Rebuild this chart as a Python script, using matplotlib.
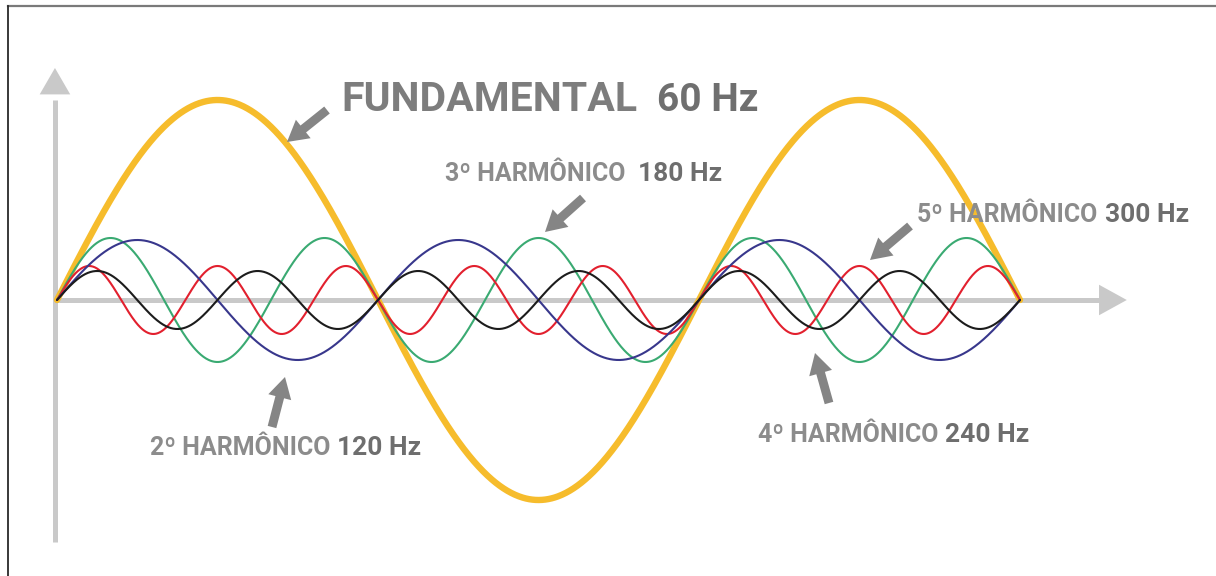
import numpy as np
import matplotlib.pyplot as plt
from matplotlib.lines import Line2D

plt.rcParams['font.family'] = ['Roboto', 'DejaVu Sans']

# harmonic order, relative amplitude and colour of every curve
orders = [1, 2, 3, 4, 5]
amplitudes = [1.0, 0.30, 0.31, 0.145, 0.17]
colors = ['#F6BC2C', '#38378C', '#3AAA72', '#1C1C1C', '#E2202E']
widths = [4.6, 1.5, 1.5, 1.5, 1.5]

# labels: name, frequency
names = ['FUNDAMENTAL', '2º HARMÔNICO', '3º HARMÔNICO', '4º HARMÔNICO', '5º HARMÔNICO']
freqs = ['60 Hz', '120 Hz', '180 Hz', '240 Hz', '300 Hz']

W, H = 1216, 576
GRAY_AXIS = '#C9C9C9'
GRAY_ARROW = '#858585'


def fig_pt(x, y):
    # pixel position (from top-left) -> figure fraction
    return (x / W, 1 - y / H)


fig = plt.figure(figsize=(W / 100, H / 100), dpi=100)
ax = fig.add_axes([0, 0, 1, 1])
ax.set_axis_off()

# data units: x in fundamental phase (rad), y in fundamental amplitude
x_scale = 963 / (3 * np.pi)
ax.set_xlim(-57 / x_scale, (W - 57) / x_scale)
ax.set_ylim(-(H - 300) / 200, 300 / 200)

# axes arrows
x_end = 10.47
ax.plot([0, x_end - 0.2], [0, 0], color=GRAY_AXIS, lw=3.6, zorder=1, solid_capstyle='butt')
ax.plot([-0.02, -0.02], [-1.21, 1.0], color=GRAY_AXIS, lw=3.6, zorder=1, solid_capstyle='butt')
ax.annotate('', xy=(x_end, 0), xytext=(x_end - 0.3, 0),
            arrowprops=dict(arrowstyle='-|>,head_length=1.0,head_width=0.55',
                            mutation_scale=20, lw=0, color=GRAY_AXIS, shrinkA=0, shrinkB=0))
ax.annotate('', xy=(-0.02, 1.16), xytext=(-0.02, 1.0),
            arrowprops=dict(arrowstyle='-|>,head_length=0.95,head_width=0.55',
                            mutation_scale=20, lw=0, color=GRAY_AXIS, shrinkA=0, shrinkB=0))

t = np.linspace(0, 3 * np.pi, 1500)
draw_order = [2, 4, 1, 3, 0]
for i in draw_order:
    ax.plot(t, amplitudes[i] * np.sin(orders[i] * t), color=colors[i],
            lw=widths[i], zorder=3 if i else 2, solid_capstyle='round')

# pointer arrows (tail -> tip, in pixels)
pointers = [((327, 110), (287, 142)),
            ((272, 427), (285, 377)),
            ((583, 198), (545, 232)),
            ((829, 403), (815, 353)),
            ((910, 226), (870, 260))]
for tail, tip in pointers:
    ax.annotate('', xy=fig_pt(*tip), xycoords='figure fraction',
                xytext=fig_pt(*tail), textcoords='figure fraction',
                arrowprops=dict(arrowstyle='simple,head_length=0.75,head_width=0.85,tail_width=0.32',
                                mutation_scale=20, color=GRAY_ARROW, lw=0,
                                shrinkA=0, shrinkB=0))

# labels: (name x, freq x, baseline y)
label_pos = [(341, 657, 111),
             (150, 337, 455),
             (445, 638, 181),
             (758, 945, 442),
             (917, 1105, 222)]
for i, (xn, xf, yb) in enumerate(label_pos):
    if i == 0:
        fig.text(*fig_pt(xn, yb), names[i], fontsize=29.5, fontweight='bold',
                 color='#7D7D7D', va='baseline', ha='left')
        fig.text(*fig_pt(xf, yb), freqs[i], fontsize=28, fontweight='bold',
                 color='#6F6F6F', va='baseline', ha='left')
    else:
        fig.text(*fig_pt(xn, yb), names[i], fontsize=18, fontweight='bold',
                 color='#8C8C8C', va='baseline', ha='left')
        fig.text(*fig_pt(xf, yb), freqs[i], fontsize=19, fontweight='bold',
                 color='#6E6E6E', va='baseline', ha='left')

# frame of the picture
fig.add_artist(Line2D([8 / W, 1], [1 - 5.5 / H] * 2, color='#7A7A7A', lw=1.6))
fig.add_artist(Line2D([8 / W] * 2, [0, 1 - 5.5 / H], color='#2A2A2A', lw=1.3))

fig.savefig('out.png', dpi=100, facecolor='white')
